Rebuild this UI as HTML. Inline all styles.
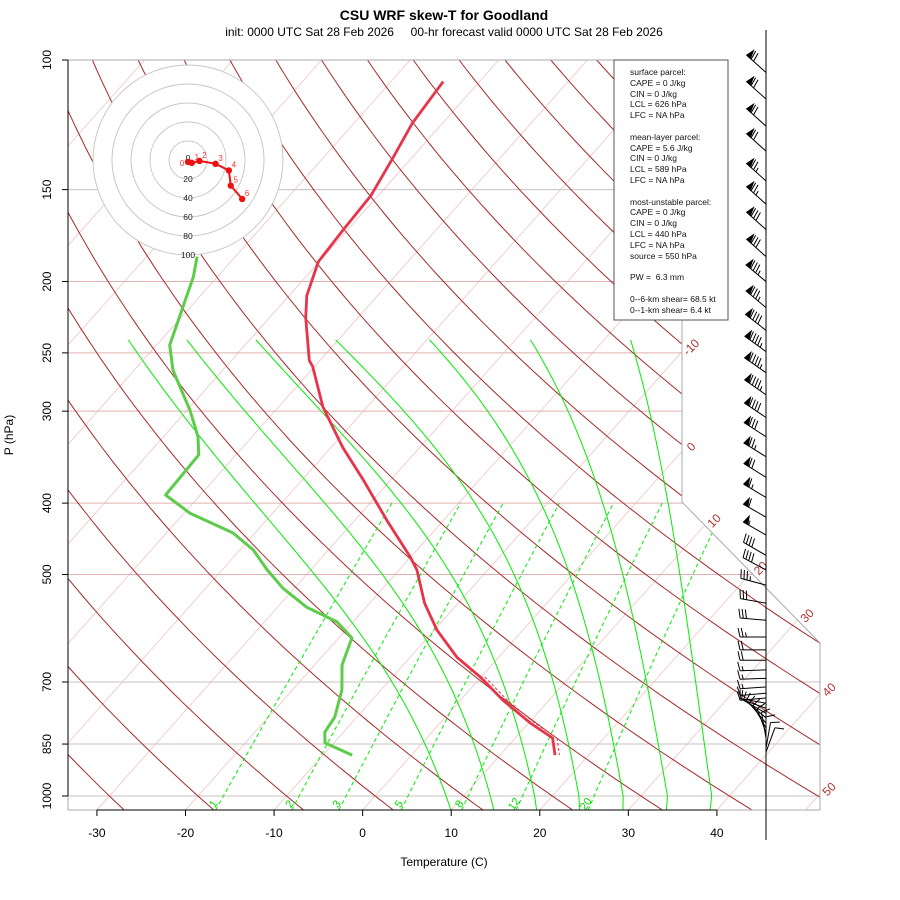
<!DOCTYPE html>
<html><head><meta charset="utf-8"><title>CSU WRF skew-T for Goodland</title>
<style>
body{margin:0;background:#fff}
svg{display:block;font-family:"Liberation Sans",sans-serif}
.pre{white-space:pre}
</style></head>
<body>
<svg id="chart" width="900" height="900" viewBox="0 0 900 900" xmlns="http://www.w3.org/2000/svg">
<defs><clipPath id="plotclip"><polygon points="68,60 682,60 682,502 820,643 820,810 68,810"/></clipPath></defs>
<rect width="900" height="900" fill="#fff"/>
<text x="444" y="20" text-anchor="middle" font-size="14" font-weight="bold">CSU WRF skew-T for Goodland</text>
<text x="444" y="36" text-anchor="middle" font-size="12" class="pre" xml:space="preserve">init: 0000 UTC Sat 28 Feb 2026     00-hr forecast valid 0000 UTC Sat 28 Feb 2026</text>
<g id="grid" clip-path="url(#plotclip)"></g>
<polygon points="68,60 682,60 682,502 820,643 820,810 68,810" fill="none" stroke="#aaa" stroke-width="1"/>
<g id="axes"></g>
<g id="hodo"></g>
<g id="series" clip-path="url(#plotclip)"></g>
<line x1="766" y1="30" x2="766" y2="840" stroke="#000" stroke-width="1"/>
<g id="barbs"></g>
<g>
<rect x="614" y="60" width="114" height="260" fill="#fff" stroke="#555" stroke-width="1"/>
<g font-size="8.5" fill="#111" class="pre">
<text x="630" y="75">surface parcel:</text>
<text x="630" y="86">CAPE = 0 J/kg</text>
<text x="630" y="97">CIN = 0 J/kg</text>
<text x="630" y="107">LCL = 626 hPa</text>
<text x="630" y="118">LFC = NA hPa</text>
<text x="630" y="140">mean-layer parcel:</text>
<text x="630" y="151">CAPE = 5.6 J/kg</text>
<text x="630" y="161">CIN = 0 J/kg</text>
<text x="630" y="172">LCL = 589 hPa</text>
<text x="630" y="183">LFC = NA hPa</text>
<text x="630" y="205">most-unstable parcel:</text>
<text x="630" y="215">CAPE = 0 J/kg</text>
<text x="630" y="226">CIN = 0 J/kg</text>
<text x="630" y="237">LCL = 440 hPa</text>
<text x="630" y="248">LFC = NA hPa</text>
<text x="630" y="259">source = 550 hPa</text>
<text x="630" y="280" xml:space="preserve">PW =  6.3 mm</text>
<text x="630" y="302">0--6-km shear= 68.5 kt</text>
<text x="630" y="313">0--1-km shear= 6.4 kt</text>
</g></g>
<text x="444" y="866" text-anchor="middle" font-size="12">Temperature (C)</text>
<text transform="translate(13,435) rotate(-90)" text-anchor="middle" font-size="12">P (hPa)</text>
</svg>
<script>
// ---- data ----
const tempP = [107,122,136,153,170,188,209,224,256,261,296,336,372,422,473,493,547,595,648,689,741,796,834,880];
const tempT = [-64.1,-63.4,-62.1,-60.8,-60.5,-60.1,-58.0,-55.9,-51.2,-50.2,-45.0,-38.7,-33.1,-26.4,-20.1,-18.0,-13.8,-9.7,-4.7,-0.1,4.8,10.2,14.2,16.2];
const dewP = [185,197,217,244,264,299,325,344,390,413,439,463,493,522,554,580,610,664,718,781,819,847,880];
const dewT = [-74.3,-72.7,-70.8,-68.5,-65.6,-59.7,-56.1,-54.2,-53.9,-49.3,-42.5,-38.5,-34.9,-31.3,-26.7,-21.8,-18.5,-16.9,-14.4,-12.5,-12.1,-11.0,-6.7];
const hodoLabels = ["0","1","2","3","4","5","6"];
const hodoU = [0,4,12,29,43,45,57];
const hodoV = [-2,-3,-1,-4,-11,-27,-41];
const hodoRings = [20,40,60,80,100];
const barbP = [104,113,123,133,146,157,170,185,200,217,233,249,266,285,306,325,346,369,393,418,442,471,493,517,547,577,608,633,654,674,692,711,725,736,748,760,772,783,796,808,821,834,847,861,872];
const barbDir = [312,312,312,312,312,312,312,312,310,310,308,306,305,305,304,303,302,302,301,300,300,300,298,285,280,275,270,270,270,268,268,266,265,265,280,290,300,310,320,330,340,350,0,10,20];
const barbSpd = [70,70,70,70,75,75,80,80,85,85,90,95,95,95,90,80,75,70,65,60,55,40,40,35,30,30,25,20,20,15,15,15,10,10,10,10,10,10,10,10,10,10,10,10,10];
const pTicks = [100,150,200,250,300,400,500,700,850,1000];
const tTicks = [-30,-20,-10,0,10,20,30,40];
const isoLabels = [-10,0,10,20,30,40,50];
const mixRatios = [1,2,3,5,8,12,20];
const moistStart = [8,13,18,23,28,33,38];
const moistTop = [-73.7,-67.1,-59.3,-50.3,-39.7,-28.3,-17.0];

// ---- axis functions ----
const NS='http://www.w3.org/2000/svg';
function Y(p){return 60+736*Math.log10(p/100);}
function X(T,p){return 362.7+8.857*T+0.89*(810-Y(p));}
function mk(tag,attrs,parent){const e=document.createElementNS(NS,tag);for(const k in attrs)e.setAttribute(k,attrs[k]);parent.appendChild(e);return e;}
function path(pts){return pts.map((q,i)=>(i?'L':'M')+q[0].toFixed(1)+','+q[1].toFixed(1)).join('');}
const grid=document.getElementById('grid'), axes=document.getElementById('axes'), series=document.getElementById('series'), hodo=document.getElementById('hodo'), barbs=document.getElementById('barbs');

// isotherms
for(let T=-170;T<=60;T+=10){
  const l=mk('line',{x1:X(T,1045),y1:Y(1045),x2:X(T,100),y2:Y(100),stroke:'#f0c4c4','stroke-width':0.8},grid);
  
  
}
// pressure lines
pTicks.forEach(p=>{
  const l=mk('line',{x1:68,y1:Y(p),x2:820,y2:Y(p),stroke:(p==150||p>=700)?'#c8c0c0':'#e0b0b0','stroke-width':1},grid);
  
  
});
// dry adiabats
for(let th=-40;th<=260;th+=10){
  const pts=[];
  for(let p=1050;p>=95;p*=0.98){const T=(th+273.15)*Math.pow(p/1000,0.286)-273.15;pts.push([X(T,p),Y(p)]);}
  const e=mk('path',{d:path(pts),fill:'none',stroke:'#a52a2a','stroke-width':1},grid);
  
  
}
// moist adiabats
function es(T){return 6.112*Math.exp(17.67*T/(T+243.5));}
function dTdp(T,p){const Tk=T+273.15,r=0.622*es(T)/(p-es(T));return (287*Tk+2.5e6*r)/(p*(1004+2.5e6*2.5e6*r*0.622/(287*Tk*Tk)));}
moistStart.forEach((T0,k)=>{
  const raw=[];
  let Td=T0;const down=[];
  for(let p=1000;p<=1050;p+=2){down.push([p,Td]);Td+=dTdp(Td,p)*2;}
  down.reverse().forEach(q=>raw.push(q));
  let T=T0;
  for(let p=1000;p>=240;p-=2){raw.push([p,T]);T-=dTdp(T,p)*2;}
  const Tc=raw[raw.length-1][1];
  const sc=(moistTop[k]-T0)/(Tc-T0);
  const pts=raw.map(q=>{const t=T0+(q[1]-T0)*(q[0]<1000?sc:1);return [X(t,q[0]),Y(q[0])];});
  const e=mk('path',{d:path(pts),fill:'none',stroke:'#00ee00','stroke-width':1},grid);
  
  
});
// mixing ratio lines
function tdFromW(w,p){const e=w*p/(622+w);const a=Math.log(e/6.112);return 243.5*a/(17.67-a);}
mixRatios.forEach(w=>{
  const pts=[];
  for(let p=1045;p>=400;p-=5)pts.push([X(tdFromW(w,p),p),Y(p)]);
  const e=mk('path',{d:path(pts),fill:'none',stroke:'#00ee00','stroke-width':1,'stroke-dasharray':'4,3'},grid);
  
  
  const x=X(tdFromW(w,1040),1040);
  const t=mk('text',{transform:`translate(${x.toFixed(1)},806) rotate(-55)`,'text-anchor':'middle','font-size':11,fill:'#00dd00'},axes);
  t.textContent=w;
  
  
});
// isotherm labels at boundary
function boundaryX(y){if(y<=502)return 682;if(y<=643)return 682+(y-502)*138/141;return 820;}
isoLabels.forEach(T=>{
  let best=60;for(let y=60;y<=810;y+=0.5){const p=100*Math.pow(10,(y-60)/736);if(X(T,p)<=boundaryX(y)){best=y;break;}}
  const t=mk('text',{transform:`translate(${(boundaryX(best)+12).toFixed(1)},${(best-2).toFixed(1)}) rotate(-45)`,'text-anchor':'middle','font-size':12,fill:'#b03030'},axes);
  t.textContent=T;
  
  
});
// axes
mk('line',{x1:68,y1:60,x2:68,y2:796,stroke:'#000','stroke-width':1},axes);
pTicks.forEach(p=>{
  mk('line',{x1:62,y1:Y(p),x2:68,y2:Y(p),stroke:'#000'},axes);
  const t=mk('text',{transform:`translate(51,${Y(p).toFixed(1)}) rotate(-90)`,'text-anchor':'middle','font-size':12},axes);
  t.textContent=p;
  
  
});
mk('line',{x1:X(tTicks[0],1045),y1:810,x2:X(tTicks[tTicks.length-1],1045),y2:810,stroke:'#000'},axes);
tTicks.forEach(T=>{
  const x=X(T,1045);
  mk('line',{x1:x,y1:810,x2:x,y2:816,stroke:'#000'},axes);
  const t=mk('text',{x:x,y:837,'text-anchor':'middle','font-size':12},axes);
  t.textContent=T;
  
  
});
// series
const tl=mk('path',{d:path(tempP.map((p,i)=>[X(tempT[i],p),Y(p)])),fill:'none',stroke:'#e8344a','stroke-width':2.8,'stroke-linejoin':'round'},series);


const vt=mk('path',{d:path(tempP.slice(-5).map((p,i)=>[X(tempT[tempP.length-5+i]+0.5,p),Y(p)])),fill:'none',stroke:'#e8344a','stroke-width':1,'stroke-dasharray':'3,2'},series);


const dl=mk('path',{d:path(dewP.map((p,i)=>[X(dewT[i],p),Y(p)])),fill:'none',stroke:'#5ccc4a','stroke-width':3,'stroke-linejoin':'round'},series);


// hodograph
const HX=188,HY=160,HS=0.95;
hodoRings.slice().reverse().forEach(r=>{
  mk('circle',{cx:HX,cy:HY,r:r*HS,fill:(r==100?'#fff':'none'),stroke:'#c8c8c8','stroke-width':1},hodo);
});
hodoRings.forEach(r=>{
  const t=mk('text',{x:HX,y:HY+r*HS+3,'text-anchor':'middle','font-size':8.5,fill:'#222'},hodo);
  t.textContent=r;
  
  
});
const hz=mk('text',{x:HX,y:HY+1,'text-anchor':'middle','font-size':8.5,fill:'#222'},hodo);hz.textContent='0';
const hp=hodoU.map((u,i)=>[HX+u*HS,HY-hodoV[i]*HS]);
mk('path',{d:path(hp),fill:'none',stroke:'#ee1111','stroke-width':2},hodo);
hp.forEach((q,i)=>{
  const c=mk('circle',{cx:q[0],cy:q[1],r:3.2,fill:'#ee1111'},hodo);
  
  
  const t=mk('text',{x:q[0]+(i==0?-6:5),y:q[1]+(i==0?4:-3),'text-anchor':'middle','font-size':8,fill:'#ff3333'},hodo);
  t.textContent=hodoLabels[i];
});
// wind barbs
barbP.forEach((p,i)=>{
  const d=barbDir[i]*Math.PI/180,sx=Math.sin(d),sy=-Math.cos(d),fx=-sy,fy=sx;
  const bx=766,by=Y(p),L=26;
  const g=mk('g',{stroke:'#000','stroke-width':1,fill:'#000'},barbs);
  
  
  let px=bx+L*sx,py=by+L*sy;
  mk('line',{x1:bx,y1:by,x2:px,y2:py},g);
  let s=Math.round(barbSpd[i]/5)*5;
  while(s>=50){mk('polygon',{points:`${px},${py} ${px+8*fx-2*sx},${py+8*fy-2*sy} ${px-5*sx},${py-5*sy}`},g);px-=6*sx;py-=6*sy;s-=50;}
  while(s>=10){mk('line',{x1:px,y1:py,x2:px+9*fx+2*sx,y2:py+9*fy+2*sy},g);px-=3.2*sx;py-=3.2*sy;s-=10;}
  if(s>=5){mk('line',{x1:px,y1:py,x2:px+4.5*fx+1*sx,y2:py+4.5*fy+1*sy},g);}
});
</script>
</body></html>
